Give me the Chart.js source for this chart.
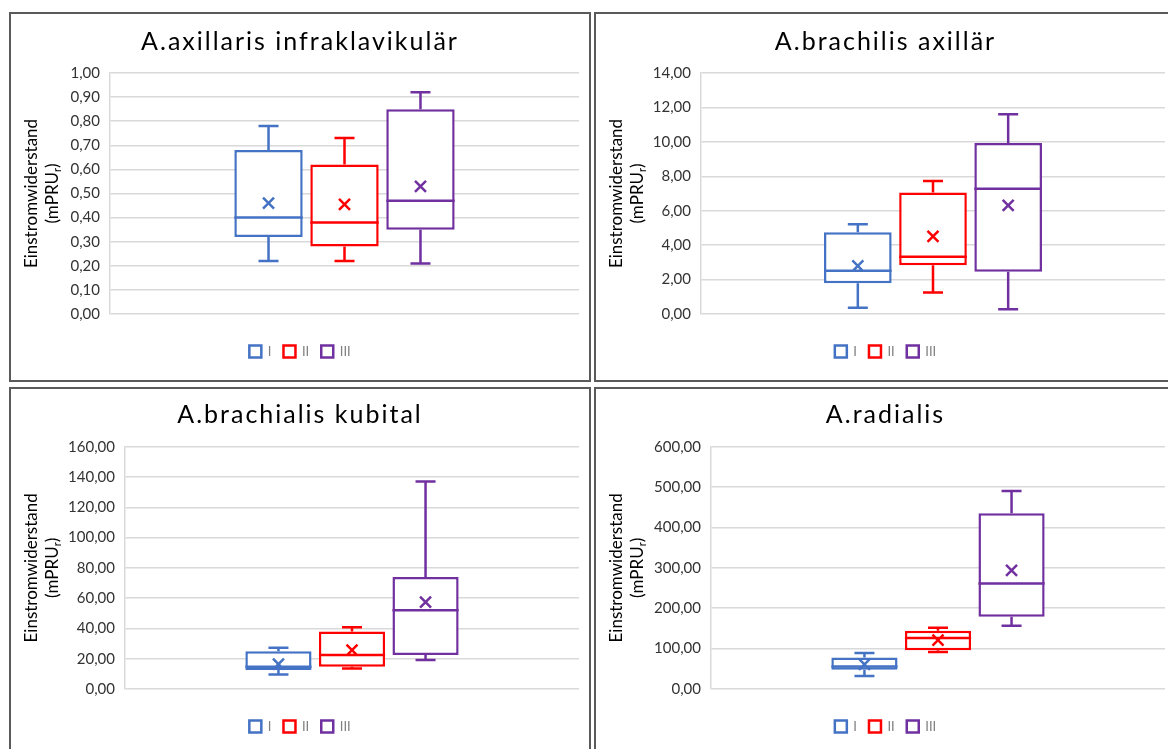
<!DOCTYPE html>
<html>
<head>
<meta charset="utf-8">
<title>Einstromwiderstand</title>
<script src="https://cdn.jsdelivr.net/npm/chart.js@4/dist/chart.umd.min.js"></script>
<style>
  html, body { margin: 0; padding: 0; background: #fff; width: 1168px; height: 749px; overflow: hidden; position: relative; }
  .panel { position: absolute; box-sizing: border-box; border: 2px solid #5a5a5a; background: #fff; overflow: hidden; }
  .panel canvas { display: block; }
</style>
</head>
<body>
<div class="panel" style="left:9px;top:12px;width:582px;height:370px"><canvas id="c1" width="578" height="366"></canvas></div>
<div class="panel" style="left:594px;top:12px;width:580px;height:370px"><canvas id="c2" width="576" height="366"></canvas></div>
<div class="panel" style="left:9px;top:387px;width:582px;height:370px"><canvas id="c3" width="578" height="366"></canvas></div>
<div class="panel" style="left:594px;top:387px;width:580px;height:370px"><canvas id="c4" width="576" height="366"></canvas></div>
<script>
// Groups shown in every panel
const groups = ['I', 'II', 'III'];

// A. axillaris infraklavikulär
const axMin    = [0.22, 0.22, 0.21];
const axQ1     = [0.32, 0.28, 0.35];
const axMedian = [0.40, 0.38, 0.47];
const axQ3     = [0.68, 0.62, 0.85];
const axMax    = [0.78, 0.73, 0.92];
const axMean   = [0.46, 0.455, 0.53];
const axTicks  = [0, 1, 0.1];          // min, max, step

// A. brachilis axillär
const baMin    = [0.37, 1.25, 0.27];
const baQ1     = [1.79, 2.83, 2.45];
const baMedian = [2.51, 3.32, 7.27];
const baQ3     = [4.75, 7.06, 9.94];
const baMax    = [5.21, 7.72, 11.6];
const baMean   = [2.80, 4.51, 6.31];
const baTicks  = [0, 14, 2];

// A. brachialis kubital
const bkMin    = [9.6, 13.6, 19.1];
const bkQ1     = [12.5, 14.7, 22.4];
const bkMedian = [14.7, 22.4, 52.0];
const bkQ3     = [25.0, 37.9, 73.9];
const bkMax    = [27.2, 40.8, 137.0];
const bkMean   = [16.4, 25.7, 57.4];
const bkTicks  = [0, 160, 20];

// A. radialis
const raMin    = [32.5, 91.5, 156.5];
const raQ1     = [47.5, 96.0, 179.0];
const raMedian = [56.0, 126.0, 261.0];
const raQ3     = [78.0, 144.0, 435.0];
const raMax    = [89.0, 151.5, 490.0];
const raMean   = [61.0, 121.0, 294.0];
const raTicks  = [0, 600, 100];

const groupColors = ['#4472C4', '#FF0000', '#7030A0'];
const FONT = 'Lato';
const LINE = 2.5;

// Whiskers, caps, median line and mean cross drawn on top of each box
const boxWhiskerPlugin = {
  id: 'boxWhisker',
  afterDatasetsDraw(chart) {
    const ctx = chart.ctx;
    const yScale = chart.scales.y;
    const py = v => yScale.getPixelForValue(v);
    chart.data.datasets.forEach((ds, i) => {
      const bar = chart.getDatasetMeta(i).data[0];
      if (!bar) return;
      const s = ds.boxStats;
      const q1 = ds.data[0][0], q3 = ds.data[0][1];
      const cx = bar.x, half = bar.width / 2, cap = 10, m = 5.5;
      ctx.save();
      ctx.strokeStyle = ds.borderColor;
      ctx.lineWidth = LINE;
      ctx.beginPath();
      ctx.moveTo(cx, py(q3)); ctx.lineTo(cx, py(s.max));
      ctx.moveTo(cx - cap, py(s.max)); ctx.lineTo(cx + cap, py(s.max));
      ctx.moveTo(cx, py(q1)); ctx.lineTo(cx, py(s.min));
      ctx.moveTo(cx - cap, py(s.min)); ctx.lineTo(cx + cap, py(s.min));
      ctx.moveTo(cx - half, py(s.median)); ctx.lineTo(cx + half, py(s.median));
      const my = py(s.mean);
      ctx.moveTo(cx - m, my - m); ctx.lineTo(cx + m, my + m);
      ctx.moveTo(cx + m, my - m); ctx.lineTo(cx - m, my + m);
      ctx.stroke();
      ctx.restore();
    });
  }
};

// Two-line rotated y-axis title with a subscript r
const axisTitlePlugin = {
  id: 'axisTitle',
  afterDraw(chart) {
    const ctx = chart.ctx, a = chart.chartArea;
    const cy = (a.top + a.bottom) / 2;
    ctx.save();
    ctx.fillStyle = '#000';
    ctx.textBaseline = 'middle';
    ctx.translate(21, cy);
    ctx.rotate(-Math.PI / 2);
    ctx.font = `17px ${FONT}`;
    ctx.textAlign = 'center';
    ctx.fillText('Einstromwiderstand', 0, 0);
    const main = '(mPRU', sub = 'r', close = ')';
    const wMain = ctx.measureText(main).width;
    const wClose = ctx.measureText(close).width;
    ctx.font = `11px ${FONT}`;
    const wSub = ctx.measureText(sub).width;
    let x = -(wMain + wSub + wClose) / 2;
    ctx.textAlign = 'left';
    ctx.font = `17px ${FONT}`; ctx.fillText(main, x, 21); x += wMain;
    ctx.font = `11px ${FONT}`; ctx.fillText(sub, x, 25); x += wSub;
    ctx.font = `17px ${FONT}`; ctx.fillText(close, x, 21);
    ctx.restore();
  }
};

function makeChart(id, title, stats, ticks, L) {
  const [mins, q1s, meds, q3s, maxs, means] = stats;
  const datasets = groups.map((g, i) => ({
    label: g,
    data: [[q1s[i], q3s[i]]],
    backgroundColor: '#ffffff',
    borderColor: groupColors[i],
    borderWidth: LINE,
    borderSkipped: false,
    categoryPercentage: 0.486,
    barPercentage: 0.9,
    boxStats: { min: mins[i], median: meds[i], max: maxs[i], mean: means[i] }
  }));

  const chart = new Chart(document.getElementById(id), {
    type: 'bar',
    data: { labels: [''], datasets },
    options: {
      responsive: false,
      animation: false,
      devicePixelRatio: 1,
      events: [],
      layout: { padding: { left: 10, right: L.right, top: 0, bottom: 12 } },
      plugins: {
        title: {
          display: true,
          text: title,
          color: '#000',
          font: { family: FONT, size: 25, weight: 'normal', lineHeight: 1.2 },
          padding: { top: L.titleTop, bottom: L.titleBottom }
        },
        legend: {
          position: 'bottom',
          labels: {
            boxWidth: 12,
            boxHeight: 12,
            padding: 12,
            color: '#7f7f7f',
            font: { family: FONT, size: 13 },
            generateLabels: c => c.data.datasets.map((ds, i) => ({
              text: ds.label,
              fillStyle: '#ffffff',
              strokeStyle: ds.borderColor,
              lineWidth: 2.5,
              fontColor: '#7f7f7f',
              hidden: false,
              datasetIndex: i
            }))
          }
        },
        tooltip: { enabled: false }
      },
      scales: {
        x: {
          display: true,
          ticks: { display: false },
          grid: { display: false, drawTicks: false },
          border: { display: false },
          afterFit: s => { s.height = 19; }
        },
        y: {
          min: ticks[0],
          max: ticks[1],
          ticks: {
            stepSize: ticks[2],
            padding: 10,
            color: '#333333',
            font: { family: FONT, size: 15 },
            callback: v => Number(v).toFixed(2).replace('.', ',')
          },
          grid: { color: '#d9d9d9', lineWidth: 1.5, drawTicks: false },
          border: { color: '#d9d9d9', width: 1.5 },
          afterFit: s => { s.width = L.yWidth; }
        }
      }
    },
    plugins: [boxWhiskerPlugin, axisTitlePlugin]
  });

  // slightly expanded letter spacing for the chart title
  const tb = chart.titleBlock;
  if (tb) {
    const drawTitle = tb.draw.bind(tb);
    tb.draw = function () {
      chart.ctx.save();
      chart.ctx.letterSpacing = '2px';
      drawTitle();
      chart.ctx.restore();
    };
    chart.draw();
  }
  return chart;
}

makeChart('c1', 'A.axillaris infraklavikulär',
  [axMin, axQ1, axMedian, axQ3, axMax, axMean], axTicks,
  { right: 10, yWidth: 89, titleTop: 13, titleBottom: 16 });
makeChart('c2', 'A.brachilis axillär',
  [baMin, baQ1, baMedian, baQ3, baMax, baMean], baTicks,
  { right: 7, yWidth: 95, titleTop: 13, titleBottom: 16 });
makeChart('c3', 'A.brachialis kubital',
  [bkMin, bkQ1, bkMedian, bkQ3, bkMax, bkMean], bkTicks,
  { right: 10, yWidth: 104, titleTop: 11, titleBottom: 16.7 });
makeChart('c4', 'A.radialis',
  [raMin, raQ1, raMedian, raQ3, raMax, raMean], raTicks,
  { right: 7, yWidth: 105, titleTop: 11, titleBottom: 16.7 });
</script>
</body>
</html>
